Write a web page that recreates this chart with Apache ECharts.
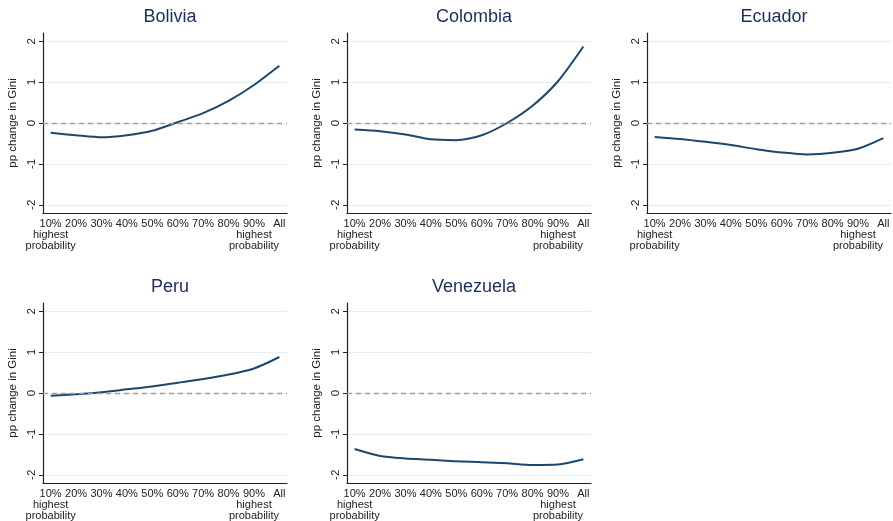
<!DOCTYPE html>
<html><head><meta charset="utf-8">
<script src="https://cdn.jsdelivr.net/npm/echarts@6/dist/echarts.min.js"></script>
<style>html,body{margin:0;padding:0;background:#fff}#c{width:893px;height:521px}</style>
</head><body><div id="c"></div>
<script>
const categories = ["10%","20%","30%","40%","50%","60%","70%","80%","90%","All"];
const subLabelPositions = [0, 8];
const subLabel = "highest\nprobability";
const yTicks = [-2,-1,0,1,2];
const countries = ["Bolivia","Colombia","Ecuador","Peru","Venezuela"];
const bolivia   = [-0.24,-0.30,-0.35,-0.30,-0.19,0.02,0.24,0.54,0.93,1.40];
const colombia  = [-0.16,-0.20,-0.28,-0.40,-0.42,-0.30,0.00,0.42,1.02,1.87];
const ecuador   = [-0.34,-0.39,-0.46,-0.54,-0.64,-0.72,-0.77,-0.73,-0.63,-0.37];
const peru      = [-0.07,-0.03,0.02,0.09,0.16,0.25,0.34,0.45,0.60,0.88];
const venezuela = [-1.37,-1.54,-1.60,-1.63,-1.67,-1.69,-1.72,-1.76,-1.75,-1.62];
const seriesData = [bolivia, colombia, ecuador, peru, venezuela];

const FONT = "Liberation Sans, Arial, sans-serif";
const lefts = [43, 347, 647];
const tops = [33, 303];
const W = 244, H = 180;
const idx = categories.map((_, i) => i);

const grids = [], xAxes = [], yAxes = [], series = [], titles = [];
countries.forEach((name, k) => {
  const col = k % 3, row = Math.floor(k / 3);
  grids.push({left: lefts[col], top: tops[row], width: W, height: H, containLabel: false});
  titles.push({text: name, left: lefts[col] + W / 2, top: tops[row] - 30, textAlign: 'center',
    textStyle: {fontFamily: FONT, fontSize: 18, fontWeight: 'normal', color: '#1c2d5e'}});
  xAxes.push({type: 'value', gridIndex: k, min: -0.3, max: 9.3,
    axisLine: {show: true, onZero: false, lineStyle: {color: '#222', width: 1.2}},
    axisTick: {show: false, customValues: idx},
    splitLine: {show: false},
    axisLabel: {customValues: idx, margin: 5, fontFamily: FONT, fontSize: 11, color: '#222',
      showMinLabel: true, showMaxLabel: true, hideOverlap: false,
      formatter: v => categories[Math.round(v)]}
  });
  xAxes.push({type: 'value', gridIndex: k, min: -0.3, max: 9.3, position: 'bottom',
    axisLine: {show: false}, axisTick: {show: false}, splitLine: {show: false},
    axisLabel: {customValues: subLabelPositions, margin: 16, fontFamily: FONT, fontSize: 11, color: '#222',
      lineHeight: 11, showMinLabel: true, showMaxLabel: true, hideOverlap: false,
      formatter: () => subLabel}
  });
  yAxes.push({type: 'value', gridIndex: k, min: -2.2, max: 2.2,
    name: 'pp change in Gini', nameLocation: 'middle', nameGap: 24, nameRotate: 90,
    nameTextStyle: {fontFamily: FONT, fontSize: 11.5, color: '#222'},
    axisLine: {show: true, onZero: false, lineStyle: {color: '#222', width: 1.2}},
    axisTick: {show: true, length: 4, customValues: yTicks, lineStyle: {color: '#222'}},
    splitLine: {show: true, lineStyle: {color: '#e4eef0', width: 1}},
    axisLabel: {customValues: yTicks, rotate: 90, margin: 5, fontFamily: FONT, fontSize: 11.5, color: '#222'}
  });
  series.push({type: 'line', xAxisIndex: 2 * k, yAxisIndex: k, showSymbol: false, smooth: 0.25,
    data: seriesData[k].map((v, i) => [i, v]),
    lineStyle: {color: '#1a476f', width: 2}, itemStyle: {color: '#1a476f'}, z: 3,
    markLine: {silent: true, symbol: 'none', label: {show: false},
      lineStyle: {color: '#a0a0a0', type: [5, 4], width: 1.3},
      data: [{yAxis: 0}]}
  });
});

const chart = echarts.init(document.getElementById('c'), null, {renderer: 'canvas'});
chart.setOption({backgroundColor: '#fff', animation: false, title: titles, grid: grids,
  xAxis: xAxes, yAxis: yAxes, series: series});
</script></body></html>
